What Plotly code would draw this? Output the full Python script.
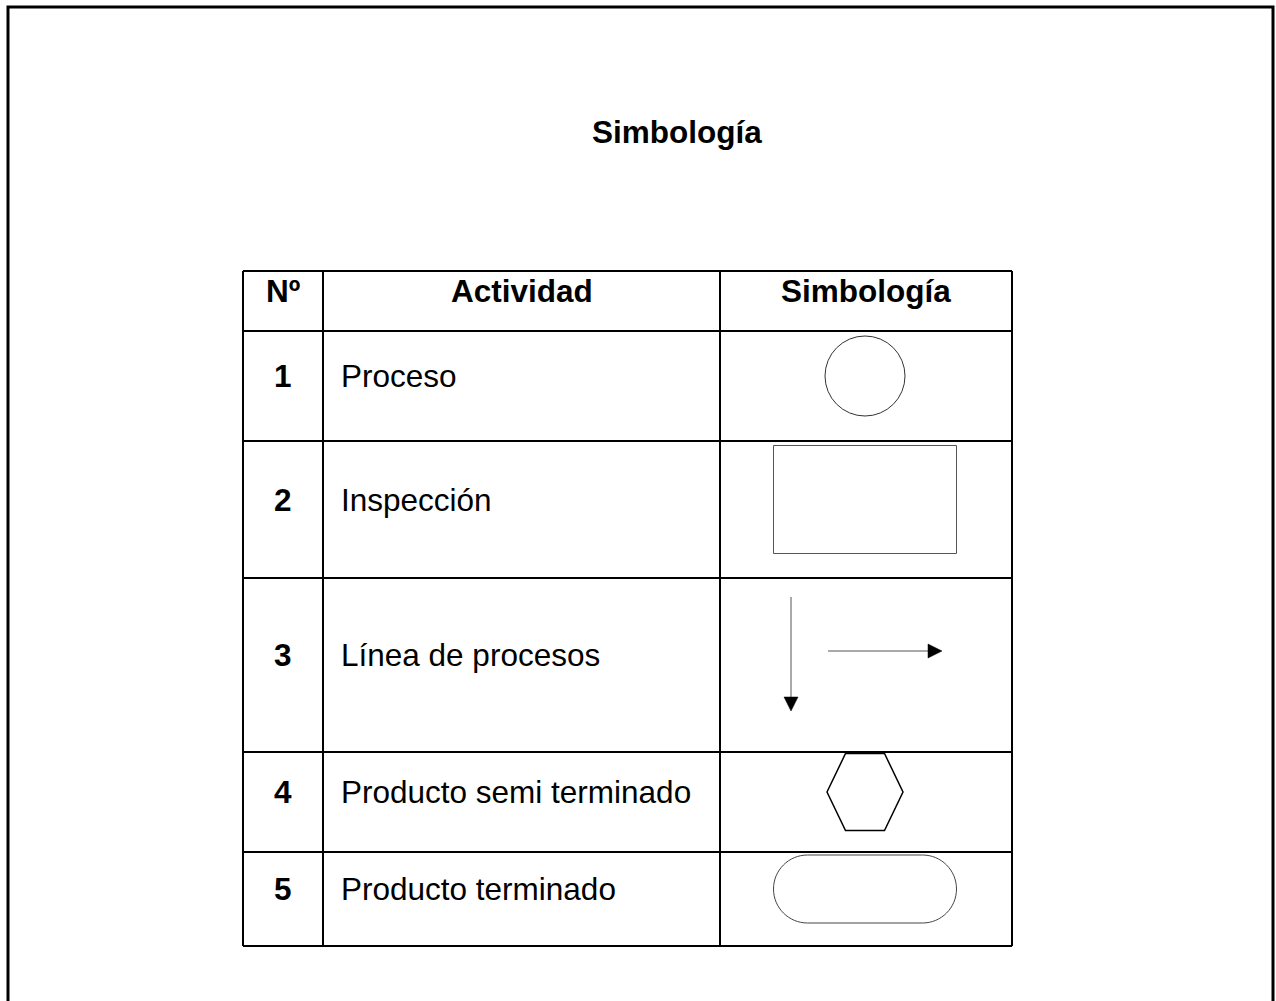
import plotly.graph_objects as go

# ---- content ----
titulo = "Simbología"
encabezados = ["Nº", "Actividad", "Simbología"]
numeros = ["1", "2", "3", "4", "5"]
actividades = ["Proceso", "Inspección", "Línea de procesos",
               "Producto semi terminado", "Producto terminado"]
simbolos = ["circulo", "rectangulo", "flechas", "hexagono", "terminal"]

# ---- layout (pixel geometry) ----
W, H = 1276, 1001
col_edges = [243, 323, 720, 1012]
row_edges = [271, 331, 441, 578, 752, 852, 946]
FONT = "Liberation Sans, Arial, sans-serif"
FS = 31.5
TXT_DY = -10
SYM_DY = -10

fig = go.Figure()
shapes = []
ann = []

# outer page border (no bottom edge)
shapes.append(dict(type="path", path=f"M 8 {H+5} L 8 7 L 1273 7 L 1273 {H+5}",
                   line=dict(color="black", width=3)))

# table grid
for x in col_edges:
    shapes.append(dict(type="line", x0=x, x1=x, y0=row_edges[0], y1=row_edges[-1],
                       line=dict(color="black", width=2)))
for y in row_edges:
    shapes.append(dict(type="line", x0=col_edges[0], x1=col_edges[-1], y0=y, y1=y,
                       line=dict(color="black", width=2)))

# title
ann.append(dict(x=677, y=142 + TXT_DY, text=f"<b>{titulo}</b>", showarrow=False,
                xanchor="center", yanchor="middle", font=dict(family=FONT, size=FS, color="black")))

# header
hc = (row_edges[0] + row_edges[1]) / 2
for i, h in enumerate(encabezados):
    cx = (col_edges[i] + col_edges[i + 1]) / 2
    ann.append(dict(x=cx, y=hc + TXT_DY, text=f"<b>{h}</b>", showarrow=False,
                    xanchor="center", yanchor="middle", font=dict(family=FONT, size=FS, color="black")))

sx = (col_edges[2] + col_edges[3]) / 2 - 1
for i in range(len(numeros)):
    rc = (row_edges[i + 1] + row_edges[i + 2]) / 2
    ann.append(dict(x=(col_edges[0] + col_edges[1]) / 2, y=rc + TXT_DY, text=f"<b>{numeros[i]}</b>",
                    showarrow=False, xanchor="center", yanchor="middle",
                    font=dict(family=FONT, size=FS, color="black")))
    ann.append(dict(x=col_edges[1] + 16, y=rc + TXT_DY, text=actividades[i],
                    showarrow=False, xanchor="left", yanchor="middle",
                    font=dict(family=FONT, size=FS, color="black")))
    cy = rc + SYM_DY
    s = simbolos[i]
    if s == "circulo":
        r = 40
        shapes.append(dict(type="circle", x0=sx - r, x1=sx + r, y0=cy - r, y1=cy + r,
                           line=dict(color="#333333", width=1)))
    elif s == "rectangulo":
        shapes.append(dict(type="rect", x0=sx - 91.5, x1=sx + 91.5, y0=cy - 54, y1=cy + 54,
                           line=dict(color="#555555", width=1)))
    elif s == "flechas":
        vx = sx - 74
        y0, y1 = cy - 58, cy + 56
        shapes.append(dict(type="line", x0=vx, x1=vx, y0=y0, y1=y1 - 12,
                           line=dict(color="#555555", width=1)))
        shapes.append(dict(type="path", path=f"M {vx-7} {y1-14} L {vx+7} {y1-14} L {vx} {y1} Z",
                           fillcolor="black", line=dict(color="black", width=0.5)))
        hy = cy - 4
        x0, x1 = sx - 37, sx + 77
        shapes.append(dict(type="line", x0=x0, x1=x1 - 12, y0=hy, y1=hy,
                           line=dict(color="#555555", width=1)))
        shapes.append(dict(type="path", path=f"M {x1-14} {hy-7} L {x1-14} {hy+7} L {x1} {hy} Z",
                           fillcolor="black", line=dict(color="black", width=0.5)))
    elif s == "hexagono":
        hw, hh, tw = 38, 38.5, 19.5
        pts = [(sx - hw, cy), (sx - tw, cy - hh), (sx + tw, cy - hh),
               (sx + hw, cy), (sx + tw, cy + hh), (sx - tw, cy + hh)]
        p = "M " + " L ".join(f"{a} {b}" for a, b in pts) + " Z"
        shapes.append(dict(type="path", path=p, line=dict(color="black", width=1.5)))
    elif s == "terminal":
        x1, x2 = sx - 91.5, sx + 91.5
        r = 34
        ya, yb = cy - r, cy + r
        k = 0.5523 * r
        p = (f"M {x1+r} {ya} L {x2-r} {ya} "
             f"C {x2-r+k} {ya} {x2} {cy-k} {x2} {cy} "
             f"C {x2} {cy+k} {x2-r+k} {yb} {x2-r} {yb} "
             f"L {x1+r} {yb} "
             f"C {x1+r-k} {yb} {x1} {cy+k} {x1} {cy} "
             f"C {x1} {cy-k} {x1+r-k} {ya} {x1+r} {ya} Z")
        shapes.append(dict(type="path", path=p, line=dict(color="#444444", width=1)))

fig.update_layout(
    width=W, height=H, margin=dict(l=0, r=0, t=0, b=0),
    paper_bgcolor="white", plot_bgcolor="white",
    xaxis=dict(range=[0, W], visible=False, fixedrange=True),
    yaxis=dict(range=[H, 0], visible=False, fixedrange=True),
    shapes=shapes, annotations=ann, showlegend=False,
)

fig.write_html("out.html", config={"displayModeBar": False},
               post_script="document.body.style.margin='0px';document.body.style.overflow='hidden';")
